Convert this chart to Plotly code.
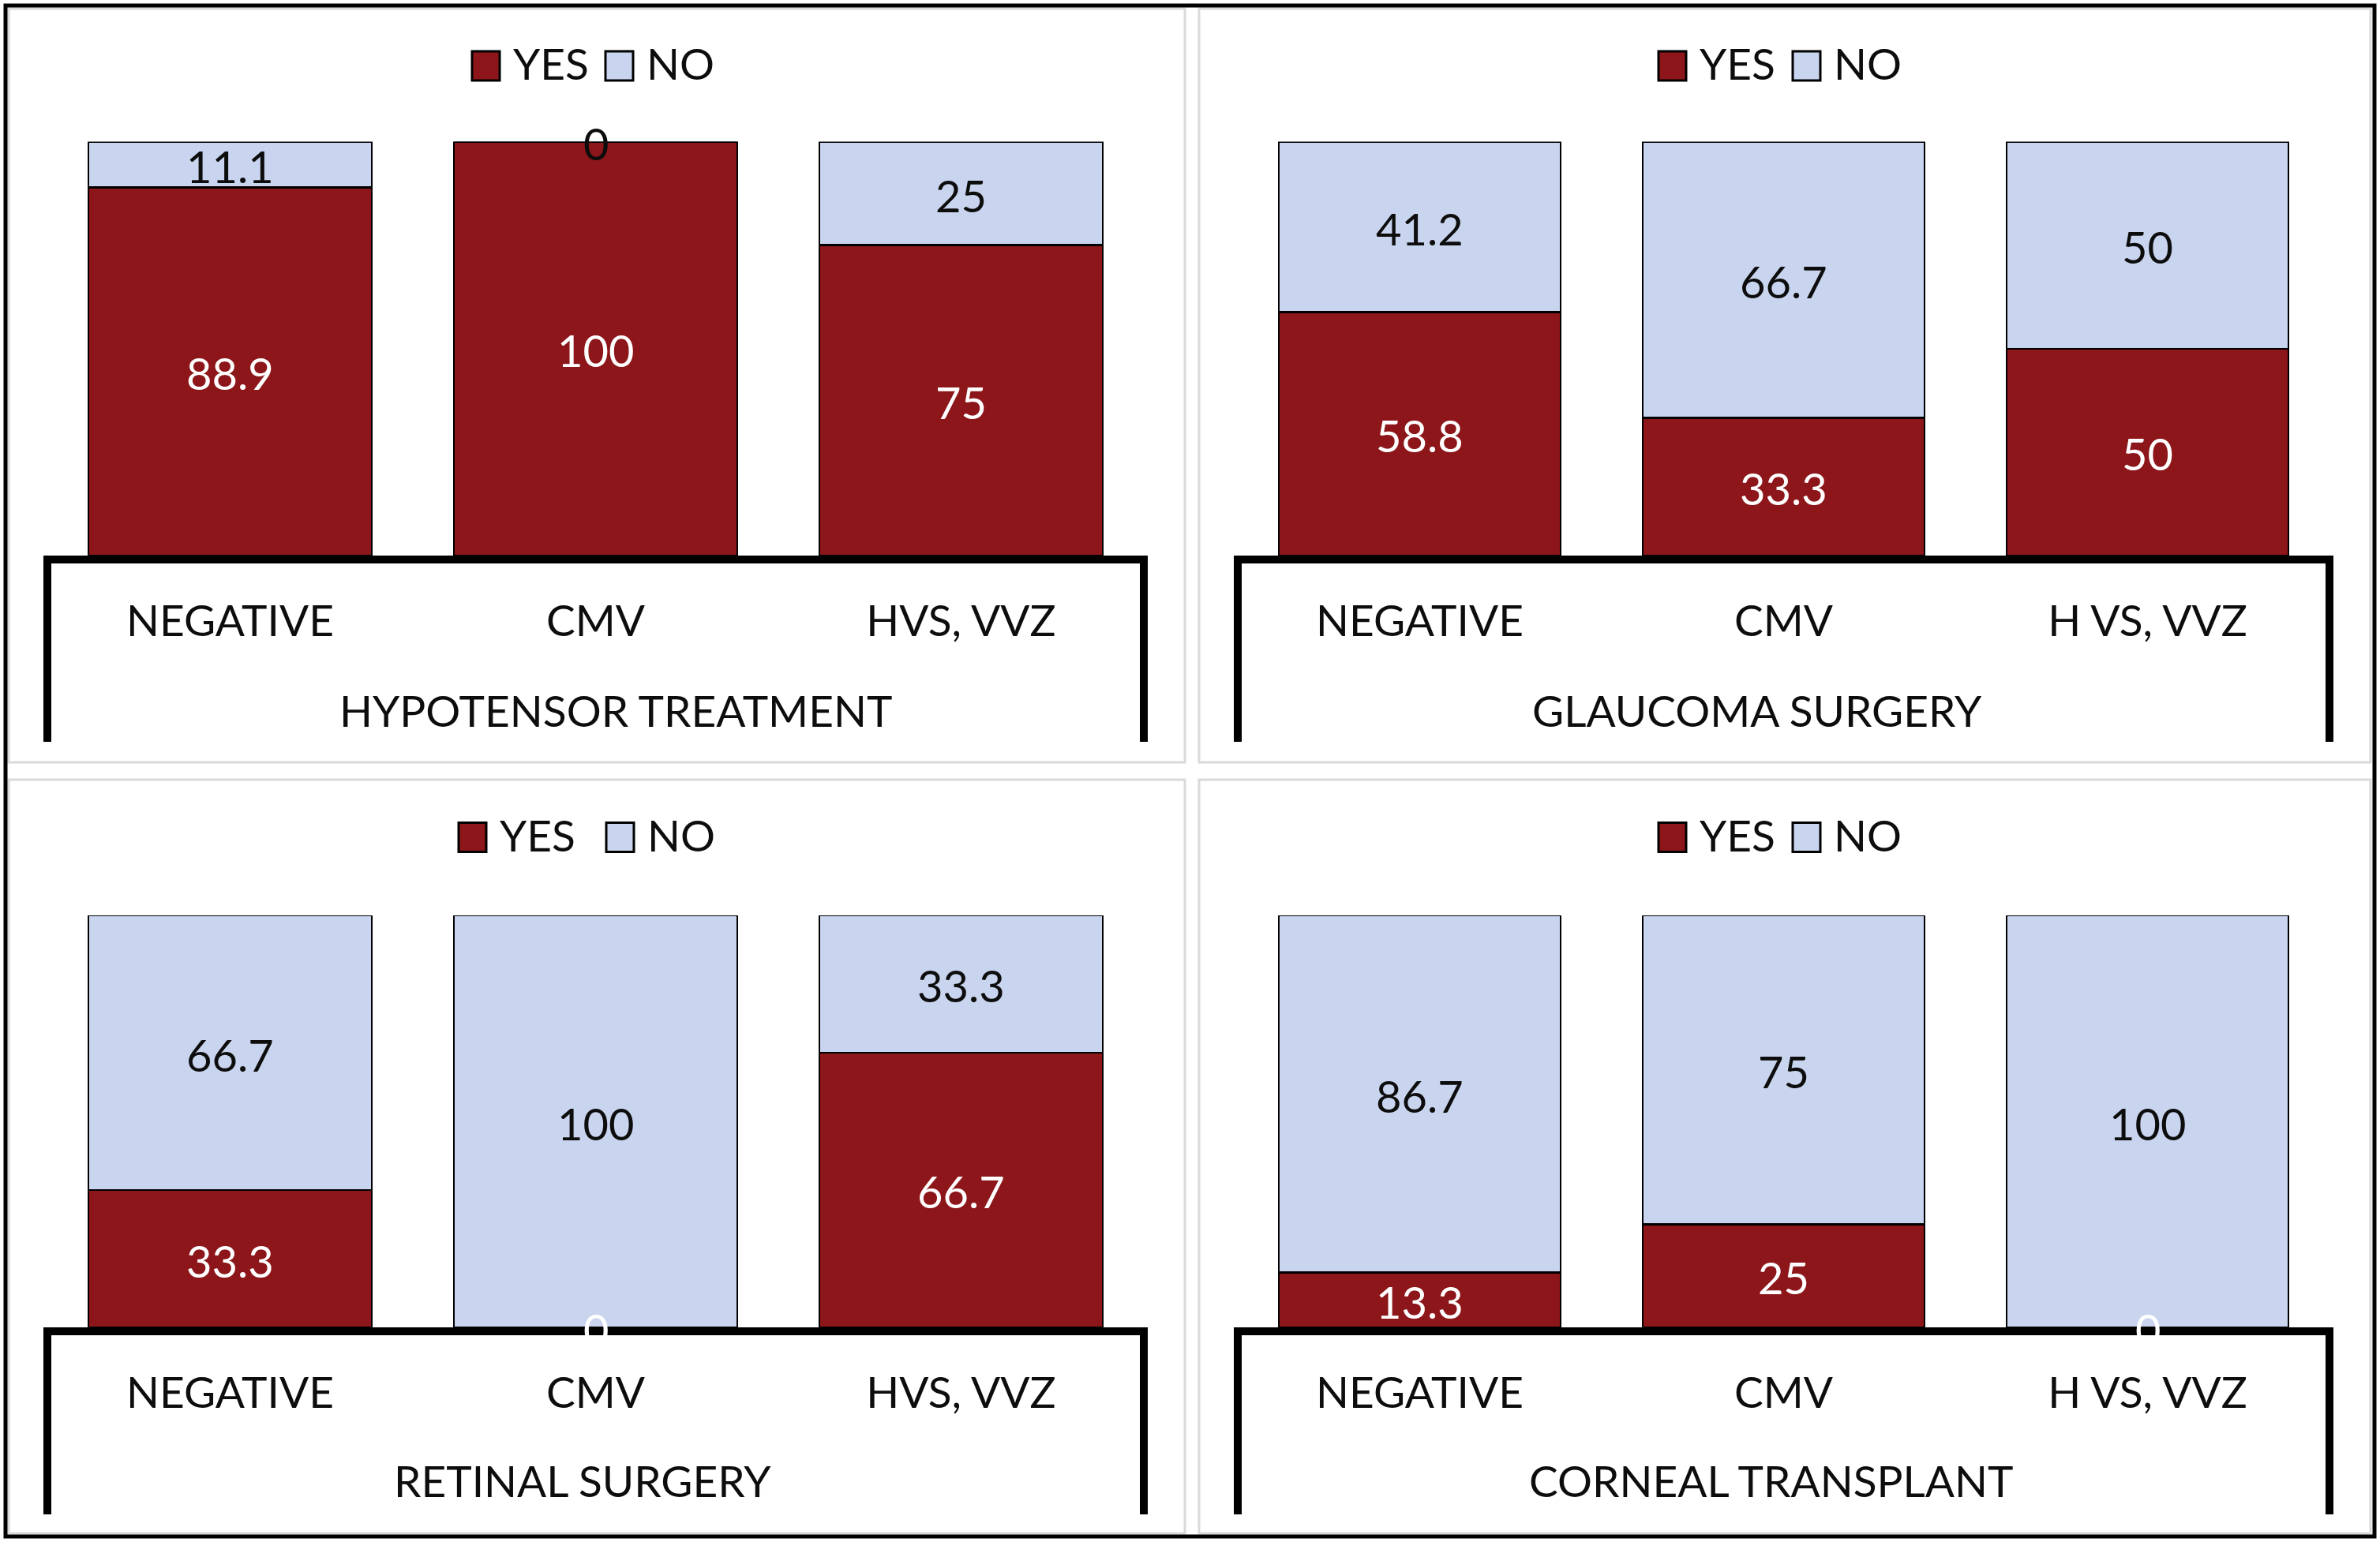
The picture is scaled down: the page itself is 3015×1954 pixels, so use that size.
import plotly.graph_objects as go

W, H = 3015, 1954

# ---------------- data ----------------
categories_left = ["NEGATIVE", "CMV", "HVS, VVZ"]
categories_right = ["NEGATIVE", "CMV", "H VS, VVZ"]
series_names = ["YES", "NO"]
panel_titles = ["HYPOTENSOR TREATMENT", "GLAUCOMA SURGERY", "RETINAL SURGERY", "CORNEAL TRANSPLANT"]

hypotensor_yes = [88.9, 100, 75]
hypotensor_no = [11.1, 0, 25]
glaucoma_yes = [58.8, 33.3, 50]
glaucoma_no = [41.2, 66.7, 50]
retinal_yes = [33.3, 0, 66.7]
retinal_no = [66.7, 100, 33.3]
corneal_yes = [13.3, 25, 0]
corneal_no = [86.7, 75, 100]

# ---------------- styles ----------------
YES_COLOR = "#8C161A"
NO_COLOR = "#C9D5EE"
TEXT_DARK = "#0D0D0D"
FONT = "Lato"
FS = 55
FS_LABEL = 56

panel_data = [
    (categories_left, hypotensor_yes, hypotensor_no, panel_titles[0]),
    (categories_right, glaucoma_yes, glaucoma_no, panel_titles[1]),
    (categories_left, retinal_yes, retinal_no, panel_titles[2]),
    (categories_right, corneal_yes, corneal_no, panel_titles[3]),
]

# layout in pixels (position/style only)
panel_layout = [
    dict(x0=60, x1=1449, ytop=179.5, ybot=704, title_x=780, title_y=900, vbot=940,
         leg_yes=598, leg_no=767, leg_y=83.5, border=(11, 11, 1501, 966)),
    dict(x0=1568, x1=2951, ytop=179.5, ybot=704, title_x=2226, title_y=900, vbot=940,
         leg_yes=2101, leg_no=2271, leg_y=83.5, border=(1519, 11, 3003, 966)),
    dict(x0=60, x1=1449, ytop=1160, ybot=1682, title_x=738, title_y=1876, vbot=1919,
         leg_yes=581, leg_no=768, leg_y=1061, border=(11, 988, 1501, 1943)),
    dict(x0=1568, x1=2951, ytop=1160, ybot=1682, title_x=2243, title_y=1876, vbot=1919,
         leg_yes=2101, leg_no=2271, leg_y=1061, border=(1519, 988, 3003, 1943)),
]


def px_x(p):
    return p / W


def px_y(p):
    return 1 - p / H


fig = go.Figure()
shapes = []
annotations = []

for i, ((cats, yes, no, title), lay) in enumerate(zip(panel_data, panel_layout)):
    n = "" if i == 0 else str(i + 1)
    xa, ya = "x" + n, "y" + n
    colors = [YES_COLOR, NO_COLOR]
    vals = [yes, no]
    txtcol = ["white", TEXT_DARK]
    base = [0] * len(cats)
    for name, v, c, tc in zip(series_names, vals, colors, txtcol):
        fig.add_trace(go.Bar(
            x=cats, y=v, name=name, xaxis=xa, yaxis=ya, width=0.775,
            marker=dict(color=c, line=dict(color="black", width=2.5)),
            showlegend=False, hoverinfo="skip",
        ))
        # data labels: centred in each stacked segment (data coordinates)
        for cat, b, val in zip(cats, base, v):
            annotations.append(dict(
                text=f"{val:g}", xref=xa, yref=ya, x=cat, y=b + val / 2,
                xanchor="center", yanchor="middle", showarrow=False, yshift=-2,
                font=dict(family=FONT, size=FS_LABEL, color=tc),
            ))
        base = [b + val for b, val in zip(base, v)]

    fig.update_layout(**{
        ("xaxis" + n): dict(
            domain=[px_x(lay["x0"]), px_x(lay["x1"])], anchor=ya,
            type="category", range=[-0.5, 2.5], showline=True, linewidth=10,
            linecolor="black", showgrid=False, zeroline=False, ticks="",
            ticklabelstandoff=26,
            tickfont=dict(family=FONT, size=FS, color=TEXT_DARK), fixedrange=True,
        ),
        ("yaxis" + n): dict(
            domain=[px_y(lay["ybot"]), px_y(lay["ytop"])], anchor=xa,
            range=[0, 100], visible=False, fixedrange=True,
        ),
    })

    # panel border (light grey)
    bx0, by0, bx1, by1 = lay["border"]
    shapes.append(dict(type="rect", xref="paper", yref="paper",
                       x0=px_x(bx0), x1=px_x(bx1), y0=px_y(by0), y1=px_y(by1),
                       line=dict(color="#D9D9D9", width=3), layer="below"))
    # vertical end lines of the category axis box
    for xx in (lay["x0"], lay["x1"]):
        shapes.append(dict(type="line", xref="paper", yref="paper",
                           x0=px_x(xx), x1=px_x(xx), y0=px_y(lay["ybot"]), y1=px_y(lay["vbot"]),
                           line=dict(color="black", width=10)))
    # group label
    annotations.append(dict(text=title, xref="paper", yref="paper",
                            x=px_x(lay["title_x"]), y=px_y(lay["title_y"]),
                            xanchor="center", yanchor="middle", showarrow=False,
                            font=dict(family=FONT, size=FS, color=TEXT_DARK)))
    # legend (swatches + text)
    for name, c, lx in zip(series_names, colors, (lay["leg_yes"], lay["leg_no"])):
        shapes.append(dict(type="rect", xref="paper", yref="paper",
                           x0=px_x(lx), x1=px_x(lx + 35),
                           y0=px_y(lay["leg_y"] - 18.5), y1=px_y(lay["leg_y"] + 18.5),
                           fillcolor=c, line=dict(color="black", width=3)))
        annotations.append(dict(text=name, xref="paper", yref="paper",
                                x=px_x(lx + 50), y=px_y(lay["leg_y"] - 3),
                                xanchor="left", yanchor="middle", showarrow=False,
                                font=dict(family=FONT, size=FS, color=TEXT_DARK)))

# outer black frame
shapes.append(dict(type="rect", xref="paper", yref="paper",
                   x0=px_x(7), x1=px_x(3008), y0=px_y(7), y1=px_y(1947),
                   line=dict(color="black", width=5)))

fig.update_layout(
    width=W, height=H, margin=dict(l=0, r=0, t=0, b=0),
    paper_bgcolor="white", plot_bgcolor="white",
    barmode="stack", showlegend=False,
    shapes=shapes, annotations=annotations,
    font=dict(family=FONT, size=FS, color=TEXT_DARK),
)

fig.write_html(
    "out.html",
    config={"displayModeBar": False},
    post_script="document.body.style.margin='0';document.body.style.overflow='hidden';",
)
